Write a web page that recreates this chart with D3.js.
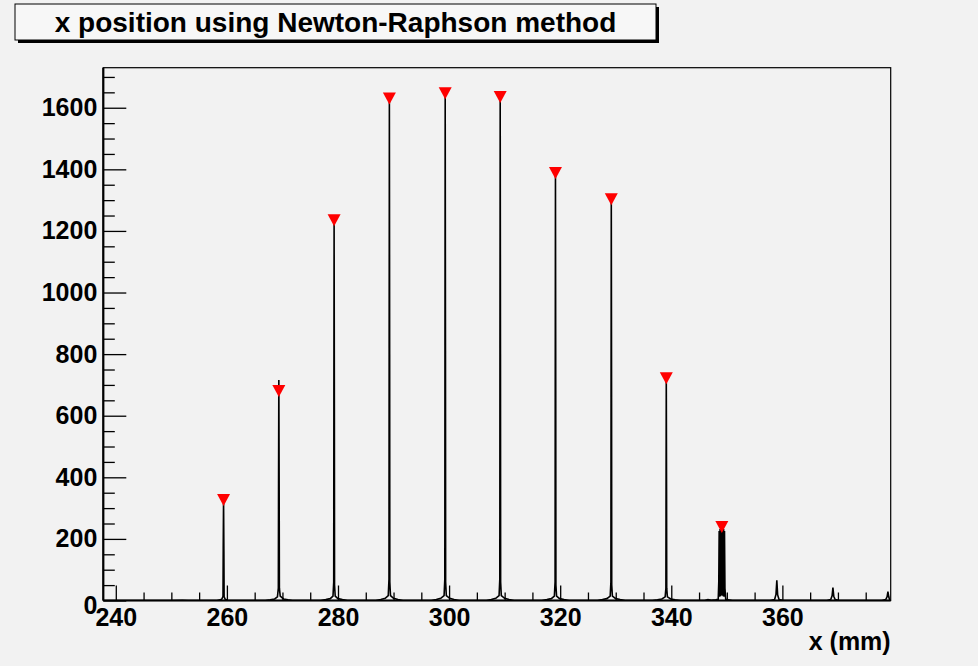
<!DOCTYPE html>
<html>
<head>
<meta charset="utf-8">
<script src="https://cdn.jsdelivr.net/npm/d3@7"></script>
<style>
  html, body { margin: 0; padding: 0; background: #f2f2f2; }
  svg text { font-family: "Liberation Sans", Arial, sans-serif; font-weight: bold; fill: #000; }
</style>
</head>
<body>
<svg id="plot" width="978" height="666"></svg>
<script>
// axis setup
const xDomain = [237.75, 379.5];
const yDomain = [0, 1730];
const xMajorTicks = [240, 260, 280, 300, 320, 340, 360];
const xMinorTicks = d3.range(245, 380, 5).filter(v => v % 20 !== 0);
const yMajorTicks = [0, 200, 400, 600, 800, 1000, 1200, 1400, 1600];
const yMinorTicks = d3.range(50, 1730, 50).filter(v => v % 200 !== 0);

// histogram outline (x in mm, counts)
const histPoints = [
  [237.75, 0], [250, 0], [252, 1], [253, 0],
  [258.2, 0], [258.8, 2], [259.1, 5], [259.3, 14], [259.34, 170], [259.4, 332], [259.46, 160], [259.5, 12], [259.7, 4], [260.1, 1], [260.8, 0],
  [266.9, 0], [267.8, 2], [268.6, 5], [269.1, 12], [269.26, 40], [269.3, 380], [269.35, 716], [269.41, 360], [269.45, 40], [269.6, 14], [270.2, 5], [271.0, 2], [271.8, 0],
  [276.9, 0], [277.8, 3], [278.6, 6], [279.1, 14], [279.23, 60], [279.26, 640], [279.3, 1242], [279.35, 620], [279.38, 50], [279.5, 14], [280.0, 6], [280.8, 3], [281.7, 0],
  [286.8, 0], [287.7, 3], [288.5, 7], [289.05, 16], [289.18, 70], [289.21, 820], [289.25, 1636], [289.3, 800], [289.33, 60], [289.45, 16], [290.0, 7], [290.8, 3], [291.7, 0],
  [296.8, 0], [297.7, 3], [298.5, 7], [299.1, 16], [299.23, 70], [299.26, 830], [299.3, 1656], [299.35, 810], [299.38, 60], [299.5, 16], [300.1, 7], [300.9, 3], [301.8, 0],
  [306.7, 0], [307.6, 3], [308.4, 7], [309.0, 16], [309.13, 70], [309.16, 820], [309.2, 1642], [309.25, 800], [309.28, 60], [309.4, 16], [310.0, 7], [310.8, 3], [311.7, 0],
  [316.7, 0], [317.6, 3], [318.4, 6], [318.95, 14], [319.08, 60], [319.11, 700], [319.15, 1394], [319.2, 680], [319.23, 50], [319.35, 14], [319.9, 6], [320.7, 3], [321.6, 0],
  [326.7, 0], [327.6, 3], [328.4, 6], [329.0, 14], [329.13, 60], [329.16, 660], [329.2, 1310], [329.25, 640], [329.28, 50], [329.4, 14], [330.0, 6], [330.8, 3], [331.7, 0],
  [336.6, 0], [337.5, 2], [338.3, 5], [338.9, 12], [339.03, 40], [339.06, 380], [339.1, 728], [339.15, 360], [339.18, 40], [339.3, 12], [339.9, 5], [340.7, 2], [341.6, 0],
  [346.0, 0], [346.6, 3], [347.2, 1], [348.0, 2], [348.45, 4],
  [348.55, 60], [348.62, 226], [348.7, 12], [348.78, 232], [348.86, 14], [348.94, 236], [349.02, 16], [349.1, 240], [349.18, 16], [349.26, 236], [349.34, 14], [349.42, 232], [349.5, 12], [349.58, 226], [349.66, 40],
  [349.8, 4], [350.3, 2], [351.0, 0],
  [357.8, 0], [358.6, 3], [358.85, 20], [359.0, 66], [359.15, 18], [359.4, 3], [360.2, 0],
  [368.0, 0], [368.7, 3], [368.95, 15], [369.1, 42], [369.25, 14], [369.5, 3], [370.3, 0],
  [377.9, 0], [378.6, 3], [378.85, 12], [379.0, 29], [379.15, 12], [379.3, 3], [379.5, 0]
];

// peaks found (triangle markers)
const markerX = [259.4, 269.35, 279.3, 289.25, 299.3, 309.2, 319.15, 329.2, 339.1, 349.1];
const markerY = [326, 680, 1235, 1630, 1647, 1635, 1388, 1303, 722, 239];

const titleText = 'x position using Newton-Raphson method';
const xTitle = 'x (mm)';

const svg = d3.select('#plot');
const frame = { left: 103.3, right: 890.7, top: 67.7, bottom: 600.5 };

const xScale = d3.scaleLinear().domain(xDomain).range([frame.left, frame.right]);
const yScale = d3.scaleLinear().domain(yDomain).range([frame.bottom, frame.top]);

svg.append('rect')
  .attr('width', 978).attr('height', 666)
  .attr('fill', '#f2f2f2');

// frame box
svg.append('rect')
  .attr('x', frame.left).attr('y', frame.top)
  .attr('width', frame.right - frame.left)
  .attr('height', frame.bottom - frame.top)
  .attr('fill', '#f2f2f2')
  .attr('stroke', '#000')
  .attr('stroke-width', 1.2);

const tickStyle = g => {
  g.selectAll('.domain').remove();
  g.selectAll('line').attr('stroke', '#000').attr('stroke-width', 1.3);
  g.selectAll('text')
    .style('font-size', '25px')
    .style('font-weight', 'bold');
};

// x axis minor + major
svg.append('g')
  .attr('transform', `translate(0, ${frame.bottom})`)
  .call(d3.axisBottom(xScale).tickValues(xMinorTicks).tickSize(-8).tickFormat(''))
  .call(tickStyle);
svg.append('g')
  .attr('transform', `translate(0, ${frame.bottom})`)
  .call(d3.axisBottom(xScale).tickValues(xMajorTicks).tickSize(-15).tickPadding(8).tickFormat(d3.format('d')))
  .call(tickStyle);

// y axis minor + major
svg.append('g')
  .attr('transform', `translate(${frame.left}, 0)`)
  .call(d3.axisLeft(yScale).tickValues(yMinorTicks).tickSize(-11.5).tickFormat(''))
  .call(tickStyle);
const yAxisG = svg.append('g')
  .attr('transform', `translate(${frame.left}, 0)`)
  .call(d3.axisLeft(yScale).tickValues(yMajorTicks).tickSize(-23).tickPadding(6).tickFormat(d3.format('d')))
  .call(tickStyle);
yAxisG.selectAll('.tick')
  .filter(d => d === 0)
  .select('text')
  .attr('dy', '0.52em');

// histogram line
svg.append('clipPath').attr('id', 'frameClip')
  .append('rect')
  .attr('x', frame.left).attr('y', frame.top)
  .attr('width', frame.right - frame.left)
  .attr('height', frame.bottom - frame.top);

const line = d3.line()
  .x(d => xScale(d[0]))
  .y(d => yScale(d[1]));

svg.append('path')
  .datum(histPoints)
  .attr('clip-path', 'url(#frameClip)')
  .attr('fill', 'none')
  .attr('stroke', '#000')
  .attr('stroke-width', 1.6)
  .attr('stroke-linejoin', 'miter')
  .attr('d', line);

// axis lines on top
svg.append('line')
  .attr('x1', frame.left).attr('x2', frame.right)
  .attr('y1', frame.bottom).attr('y2', frame.bottom)
  .attr('stroke', '#000').attr('stroke-width', 2.2);
svg.append('line')
  .attr('x1', frame.left).attr('x2', frame.left)
  .attr('y1', frame.top).attr('y2', frame.bottom)
  .attr('stroke', '#000').attr('stroke-width', 2.2);

// peak markers
const markers = markerX.map((x, i) => ({ x, y: markerY[i] }));
svg.selectAll('.peak').data(markers)
  .enter().append('path')
    .attr('class', 'peak')
    .attr('fill', '#ff0000')
    .attr('d', d => {
      const cx = xScale(d.x), cy = yScale(d.y);
      return `M${cx - 6.5},${cy - 6} L${cx + 6.5},${cy - 6} L${cx},${cy + 6} Z`;
    });

// x axis title
svg.append('text')
  .attr('x', frame.right)
  .attr('y', 650)
  .attr('text-anchor', 'end')
  .style('font-size', '25px')
  .text(xTitle);

// title box with shadow
const tBox = { x: 15, y: 4, w: 641, h: 36 };
svg.append('rect')
  .attr('x', tBox.x + 3).attr('y', tBox.y + 3)
  .attr('width', tBox.w).attr('height', tBox.h)
  .attr('fill', '#000');
svg.append('rect')
  .attr('x', tBox.x).attr('y', tBox.y)
  .attr('width', tBox.w).attr('height', tBox.h)
  .attr('fill', '#f7f7f7')
  .attr('stroke', '#000')
  .attr('stroke-width', 1);
svg.append('text')
  .attr('x', tBox.x + tBox.w / 2)
  .attr('y', 32)
  .attr('text-anchor', 'middle')
  .style('font-size', '28px')
  .text(titleText);
</script>
</body>
</html>
